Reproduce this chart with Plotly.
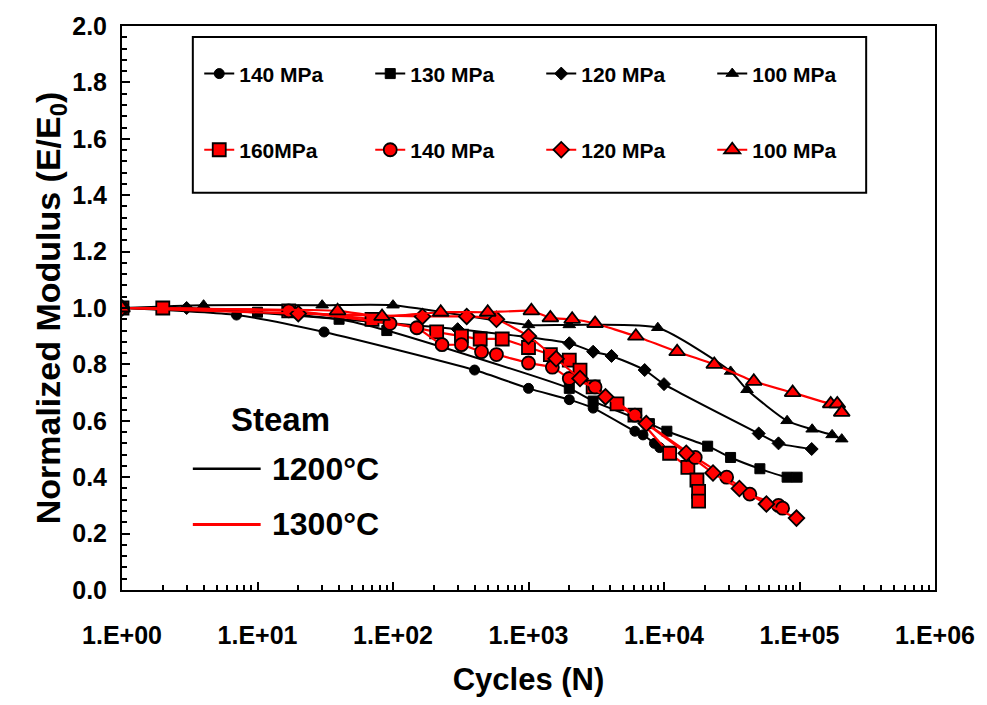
import plotly.graph_objects as go

# ---------------- data ----------------
# 1200°C (black)
n_b140 = [1, 7, 31, 400, 1000, 2000, 3000, 6100, 7000, 8500, 9300]
e_b140 = [1.0, 0.975, 0.915, 0.78, 0.715, 0.675, 0.645, 0.563, 0.55, 0.52, 0.505]

n_b130 = [1, 10, 40, 90, 2000, 3000, 7800, 10500, 21000, 31000, 51000, 81000, 96000]
e_b130 = [1.0, 0.985, 0.96, 0.92, 0.715, 0.67, 0.59, 0.563, 0.51, 0.47, 0.43, 0.40, 0.40]

n_b120 = [1, 3, 300, 2000, 3000, 4100, 7200, 10000, 50000, 70000, 123000]
e_b120 = [1.0, 1.0, 0.925, 0.875, 0.845, 0.83, 0.78, 0.73, 0.555, 0.52, 0.50]

n_b100 = [1, 4, 30, 100, 1000, 2000, 9000, 31000, 41000, 81000, 124000, 174000, 205000]
e_b100 = [1.0, 1.01, 1.01, 1.01, 0.94, 0.94, 0.93, 0.775, 0.71, 0.60, 0.57, 0.55, 0.535]

# 1300°C (red)
n_r160 = [1, 2, 17, 70, 210, 320, 440, 640, 1000, 1450, 2000, 2400, 3000, 4500, 6100,
          11000, 15000, 17500, 18000, 18000]
e_r160 = [1.0, 1.0, 0.99, 0.96, 0.915, 0.90, 0.89, 0.89, 0.86, 0.835, 0.815, 0.78, 0.72, 0.66, 0.62,
          0.485, 0.435, 0.39, 0.35, 0.315]

n_r140 = [1, 17, 95, 150, 230, 320, 450, 580, 1000, 1500, 2000, 3100, 6100, 17000, 29000,
          43000, 70000, 75000]
e_r140 = [1.0, 0.99, 0.945, 0.93, 0.87, 0.87, 0.845, 0.835, 0.805, 0.79, 0.75, 0.72, 0.62, 0.47, 0.40,
          0.34, 0.30, 0.29]

n_r120 = [1, 20, 165, 350, 580, 1000, 1600, 2400, 3700, 7400, 14600, 23000, 36000, 57000, 95000]
e_r120 = [1.0, 0.98, 0.97, 0.97, 0.96, 0.90, 0.82, 0.75, 0.685, 0.59, 0.485, 0.415, 0.36, 0.305, 0.255]

n_r100 = [1, 39, 83, 225, 500, 1050, 1450, 2100, 3100, 6200, 12500, 23500, 46000, 89000,
          170000, 190000, 205000]
e_r100 = [1.0, 0.99, 0.97, 0.985, 0.985, 0.99, 0.965, 0.96, 0.945, 0.90, 0.845, 0.80, 0.74, 0.70,
          0.66, 0.66, 0.63]

x_tickvals = [1, 10, 100, 1000, 10000, 100000, 1000000]
x_ticktext = ["1.E+00", "1.E+01", "1.E+02", "1.E+03", "1.E+04", "1.E+05", "1.E+06"]

black_series = [
    ("140 MPa", n_b140, e_b140, "circle", 10),
    ("130 MPa", n_b130, e_b130, "square", 10),
    ("120 MPa", n_b120, e_b120, "diamond", 10),
    ("100 MPa", n_b100, e_b100, "triangle-up", 11),
]
red_series = [
    ("160MPa", n_r160, e_r160, "square", 13),
    ("140 MPa", n_r140, e_r140, "circle", 13),
    ("120 MPa", n_r120, e_r120, "diamond", 12),
    ("100 MPa", n_r100, e_r100, "triangle-up", 14),
]

FONT = "Liberation Sans, Arial, sans-serif"

fig = go.Figure()
for name, xs, ys, sym, sz in black_series:
    fig.add_trace(go.Scatter(
        x=xs, y=ys, name=name, mode="lines+markers", legend="legend",
        line=dict(color="black", width=2, shape="spline", smoothing=0.6),
        marker=dict(symbol=sym, size=sz, color="black", line=dict(color="black", width=1)),
    ))
for name, xs, ys, sym, sz in red_series:
    fig.add_trace(go.Scatter(
        x=xs, y=ys, name=name, mode="lines+markers", legend="legend2",
        line=dict(color="#ff0000", width=2.2, shape="spline", smoothing=0.4),
        marker=dict(symbol=sym, size=sz, color="#ff0000", line=dict(color="black", width=1.8)),
    ))

legend_common = dict(
    orientation="h", xanchor="left", yanchor="middle",
    font=dict(family=FONT, size=21, color="black", weight="bold"),
    entrywidth=126, entrywidthmode="pixels",
    bgcolor="rgba(0,0,0,0)", borderwidth=0, itemwidth=30,
    tracegroupgap=0,
)

fig.update_layout(
    width=987, height=705,
    margin=dict(l=122, r=50, t=22, b=115),
    paper_bgcolor="white", plot_bgcolor="white",
    font=dict(family=FONT, color="black"),
    legend=dict(x=0.095, y=0.915, **legend_common),
    legend2=dict(x=0.095, y=0.780, **legend_common),
    xaxis=dict(
        type="log", range=[0, 6],
        tickvals=x_tickvals, ticktext=x_ticktext,
        ticks="inside", ticklen=8, tickwidth=2, tickcolor="black",
        minor=dict(ticks="inside", ticklen=5, tickwidth=1.5, tickcolor="black", dtick="D1"),
        showline=True, linecolor="black", linewidth=2, mirror=True,
        showgrid=False, zeroline=False,
        tickfont=dict(family=FONT, size=25, color="black", weight="bold"),
        ticklabelstandoff=22,
        title=dict(text="Cycles (N)", font=dict(family=FONT, size=31, color="black", weight="bold"),
                   standoff=20),
    ),
    yaxis=dict(
        range=[0, 2], dtick=0.2, tickformat=".1f",
        ticks="inside", ticklen=8, tickwidth=2, tickcolor="black",
        minor=dict(ticks="inside", ticklen=5, tickwidth=1.5, tickcolor="black", dtick=0.04),
        showline=True, linecolor="black", linewidth=2, mirror=True,
        showgrid=False, zeroline=False,
        tickfont=dict(family=FONT, size=25, color="black", weight="bold"),
        ticklabelstandoff=8,
        title=dict(text="Normalized Modulus (E/E<sub>0</sub>)",
                   font=dict(family=FONT, size=34, color="black", weight="bold"),
                   standoff=0),
    ),
    showlegend=True,
)

# legend frame
fig.add_shape(type="rect", xref="paper", yref="paper",
              x0=(193 - 122) / 815, x1=(868 - 122) / 815,
              y0=(590 - 190) / 568, y1=(590 - 33) / 568,
              line=dict(color="black", width=2), fillcolor="rgba(0,0,0,0)")

# Steam key
fig.add_annotation(text="Steam", xref="paper", yref="paper",
                   x=(281 - 122) / 815, y=(590 - 418) / 568, showarrow=False,
                   xanchor="center", yanchor="middle",
                   font=dict(family=FONT, size=33, color="black", weight="bold"))
fig.add_shape(type="line", xref="paper", yref="paper",
              x0=(193 - 122) / 815, x1=(261 - 122) / 815,
              y0=(590 - 468) / 568, y1=(590 - 468) / 568,
              line=dict(color="black", width=2.5))
fig.add_shape(type="line", xref="paper", yref="paper",
              x0=(193 - 122) / 815, x1=(261 - 122) / 815,
              y0=(590 - 524) / 568, y1=(590 - 524) / 568,
              line=dict(color="#ff0000", width=3))
for lbl, yy in (("1200°C", 468), ("1300°C", 524)):
    fig.add_annotation(text=lbl, xref="paper", yref="paper", xanchor="left", yanchor="middle",
                       x=(270 - 122) / 815, y=(590 - yy) / 568, showarrow=False,
                       font=dict(family=FONT, size=32, color="black", weight="bold"))

fig.write_html("out.html")
